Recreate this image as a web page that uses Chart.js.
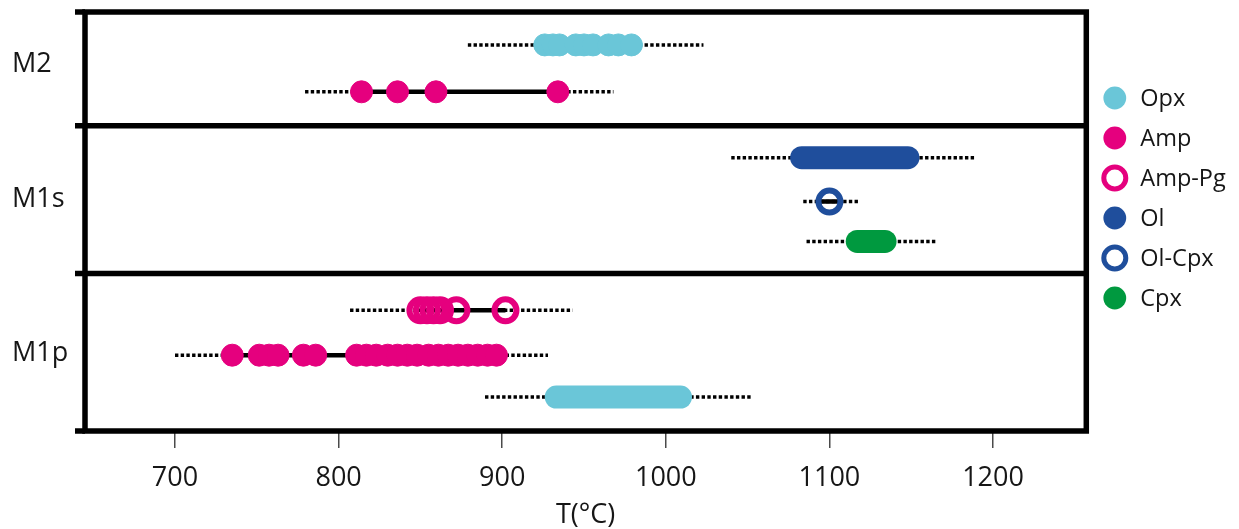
<!DOCTYPE html>
<html>
<head>
<meta charset="utf-8">
<title>Crystallisation temperatures</title>
<script src="https://cdn.jsdelivr.net/npm/chart.js@4.4.1/dist/chart.umd.min.js"></script>
<style>
  html, body { margin: 0; padding: 0; background: #ffffff; }
  #wrap { width: 1239px; height: 529px; }
</style>
</head>
<body>
<div id="wrap"><canvas id="c" width="1239" height="529"></canvas></div>
<script>
// ---- axis ----
const xTicks = [700, 800, 900, 1000, 1100, 1200];
const xMin = 645;
const xMax = 1257;

// ---- panels (stacked from top) ----
const panels = ['M2', 'M1s', 'M1p'];
const panelEdges = [0, 11.4, 26.2, 42];
const panelLabelAt = [5.2, 18.75, 34.2];

// ---- phases / legend ----
const phases = ['Opx', 'Amp', 'Amp-Pg', 'Ol', 'Ol-Cpx', 'Cpx'];
const phaseColors = ['#6ac6d8', '#e5007e', '#e5007e', '#1f4e9c', '#1f4e9c', '#00993f'];
const phaseHollow = [false, false, true, false, true, false];

// ---- temperature estimates (°C) ----
const m2Opx = [926, 931, 935, 945, 950, 955.5, 965, 971, 979];
const m2Amp = [814, 836, 859.5, 934];
const m1sOl = [1083, 1148];          // continuous spread of estimates
const m1sOlCpx = [1100];
const m1sCpx = [1117, 1134];         // continuous spread of estimates
const m1pAmpPg = [850, 854, 858, 862, 872, 902];
const m1pAmp = [735, 751.5, 757.5, 763, 778.5, 786, 811, 817, 823, 830, 836, 842,
                848, 855, 861, 867, 873, 879, 885, 891, 896.5];
const m1pOpx = [933, 1009];          // continuous spread of estimates

// ---- rows ----
const rowPhase = ['Opx', 'Amp', 'Ol', 'Ol-Cpx', 'Cpx', 'Amp-Pg', 'Amp', 'Opx'];
const rowY = [3.3, 8.0, 14.6, 19.0, 23.0, 29.9, 34.4, 38.6];
const rowValues = [m2Opx, m2Amp, m1sOl, m1sOlCpx, m1sCpx, m1pAmpPg, m1pAmp, m1pOpx];
const rowContinuous = [false, false, true, false, true, false, false, true];
// uncertainty envelope (dotted)
const rowUncertainty = [[879, 1023], [779.5, 968], [1040, 1189], [1084, 1117.5],
                        [1086, 1165], [807, 943], [700, 928], [889.5, 1052.5]];
// spread of the Ol-Cpx pair estimate
const olCpxSpread = [1094, 1106];

const FONT = '"Open Sans", "Noto Sans", "DejaVu Sans", sans-serif';
const INK = '#161616';

const datasets = [];
rowValues.forEach((vals, i) => {
  const p = phases.indexOf(rowPhase[i]);
  const color = phaseColors[p];
  const y = rowY[i];
  const lo = Math.min(...vals), hi = Math.max(...vals);
  const spread = rowPhase[i] === 'Ol-Cpx' ? olCpxSpread : [lo, hi];

  // dotted envelope
  datasets.push({
    data: [{ x: rowUncertainty[i][0], y }, { x: rowUncertainty[i][1], y }],
    showLine: true, borderColor: '#000', borderWidth: 3.5, borderDash: [3.4, 2.3],
    borderCapStyle: 'butt', pointRadius: 0, order: 3
  });

  if (rowContinuous[i]) {
    // continuous band of estimates in phase colour
    datasets.push({
      data: [{ x: lo, y }, { x: hi, y }],
      showLine: true, borderColor: color, borderWidth: 23, borderCapStyle: 'round',
      pointRadius: 0, order: 1
    });
  } else {
    // solid black spread
    datasets.push({
      data: [{ x: spread[0], y }, { x: spread[1], y }],
      showLine: true, borderColor: '#000', borderWidth: 4.6, borderCapStyle: 'butt',
      pointRadius: 0, order: 2
    });
    // individual estimates
    const hollow = phaseHollow[p];
    datasets.push({
      data: vals.map(v => ({ x: v, y })),
      showLine: false,
      pointStyle: 'circle',
      pointRadius: 11,
      pointBorderWidth: hollow ? 6 : 1,
      pointBackgroundColor: hollow ? 'rgba(0,0,0,0)' : color,
      pointBorderColor: color,
      order: 1
    });
  }
});

const decorPlugin = {
  id: 'decor',
  afterDraw(chart) {
    const { ctx, chartArea: a, scales: { y } } = chart;
    ctx.save();

    // frame
    ctx.strokeStyle = '#000';
    ctx.lineWidth = 5.5;
    ctx.lineJoin = 'miter';
    ctx.beginPath();
    ctx.rect(a.left, a.top, a.right - a.left, a.bottom - a.top);
    ctx.stroke();

    // panel boundaries, each with a tick reaching out to the left
    panelEdges.forEach((v, k) => {
      const py = y.getPixelForValue(v);
      ctx.beginPath();
      ctx.moveTo(a.left - 10, py);
      ctx.lineTo(k > 0 && k < panelEdges.length - 1 ? a.right : a.left, py);
      ctx.stroke();
    });

    // panel names
    ctx.fillStyle = INK;
    ctx.font = '27px ' + FONT;
    ctx.textAlign = 'left';
    ctx.textBaseline = 'middle';
    panels.forEach((name, k) => {
      ctx.fillText(name, 12, y.getPixelForValue(panelLabelAt[k]));
    });

    // legend
    const lx = a.right + 28.5;
    const ly0 = 98, step = 40;
    ctx.font = '23.5px ' + FONT;
    phases.forEach((name, k) => {
      const cy = ly0 + k * step;
      ctx.beginPath();
      if (phaseHollow[k]) {
        ctx.arc(lx, cy, 11, 0, Math.PI * 2);
        ctx.lineWidth = 5;
        ctx.strokeStyle = phaseColors[k];
        ctx.stroke();
      } else {
        ctx.arc(lx, cy, 11.4, 0, Math.PI * 2);
        ctx.fillStyle = phaseColors[k];
        ctx.fill();
      }
      ctx.fillStyle = INK;
      ctx.fillText(name, lx + 25.5, cy + 1);
    });

    ctx.restore();
  }
};

new Chart(document.getElementById('c'), {
  type: 'scatter',
  data: { datasets },
  options: {
    responsive: false,
    animation: false,
    events: [],
    layout: { autoPadding: false, padding: { left: 85, right: 152.7, top: 12, bottom: 0 } },
    plugins: { legend: { display: false }, tooltip: { enabled: false } },
    scales: {
      x: {
        type: 'linear',
        min: xMin,
        max: xMax,
        afterBuildTicks: s => { s.ticks = xTicks.map(v => ({ value: v })); },
        afterFit: s => { s.height = 98; },
        border: { display: false },
        grid: { drawOnChartArea: false, drawTicks: true, tickLength: 17, color: '#4a4a4a', lineWidth: 1.5 },
        ticks: { font: { family: FONT, size: 27 }, color: INK, padding: 14, maxRotation: 0, autoSkip: false,
                 callback: v => String(v) },
        title: { display: true, text: 'T(°C)', color: INK,
                 font: { family: FONT, size: 27, lineHeight: 1 }, padding: { top: 0, bottom: 0.5 } }
      },
      y: {
        type: 'linear',
        min: panelEdges[0],
        max: panelEdges[panelEdges.length - 1],
        reverse: true,
        display: false
      }
    }
  },
  plugins: [decorPlugin]
});
</script>
</body>
</html>
